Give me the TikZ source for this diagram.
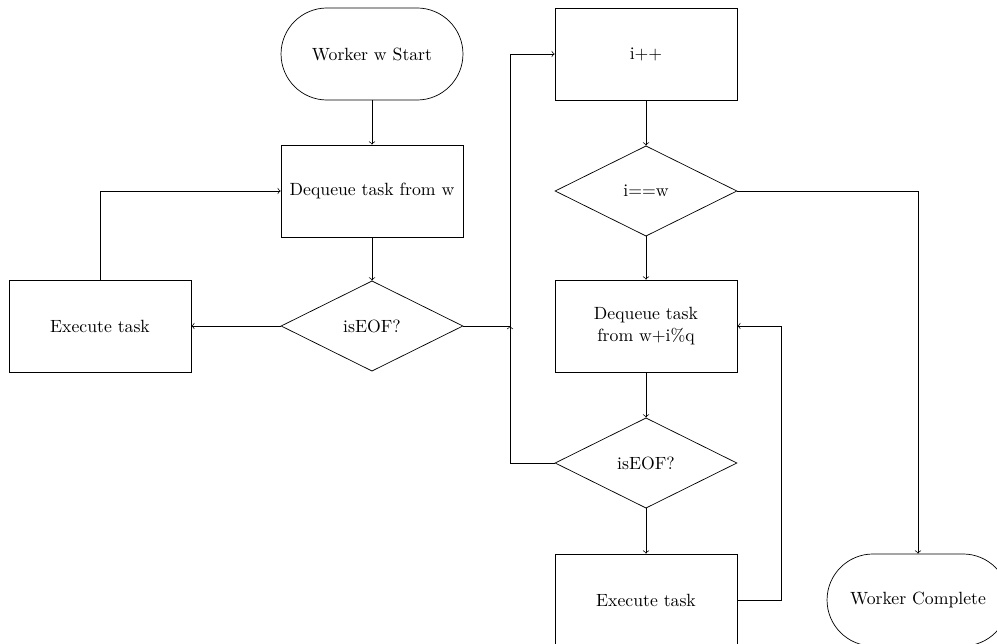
\documentclass[tikz,border=0pt]{standalone}
\usetikzlibrary{shapes.geometric}
\begin{document}
\begin{tikzpicture}[x=0.565pt,y=-0.565pt,
  box/.style={draw,rectangle,minimum width=102.8pt,minimum height=52pt,align=center,inner sep=2pt},
  term/.style={draw,rectangle,rounded corners=26pt,minimum width=102.8pt,minimum height=52pt,align=center},
  decide/.style={draw,diamond,minimum width=102.8pt,minimum height=51pt,inner sep=0pt,align=center},
  flow/.style={->}]
\useasboundingbox (0,0) rectangle (997,644);

% left column
\node[term]   (start) at (372,54)  {Worker w Start};
\node[box]    (deq)   at (372,191) {Dequeue task from w};
\node[decide] (eof)   at (372,326) {isEOF?};
\node[box]    (exec)  at (100,326) {Execute task};

% right column
\node[box]    (inc)   at (646,54)  {i++};
\node[decide] (same)  at (646,191) {i==w};
\node[box]    (steal) at (646,326) {Dequeue task\\from w+i\%q};
\node[decide] (eoftwo) at (646,463) {isEOF?};
\node[box]    (exectwo) at (646,600) {Execute task};
\node[term]   (done)  at (918,600) {Worker Complete};

\coordinate (bus) at (510,326);
\coordinate (back) at (781,600);

\draw[flow] (start) -- (deq);
\draw[flow] (deq) -- (eof);
\draw[flow] (eof) -- (exec);
\draw[flow] (exec.north) |- (deq.west);
\draw[flow] (eof.east) -- (bus) |- (inc.west);
\draw[flow] (inc) -- (same);
\draw[flow] (same) -- (steal);
\draw[flow] (same.east) -| (done.north);
\draw[flow] (steal) -- (eoftwo);
\draw[flow] (eoftwo.west) -| (bus);
\draw[flow] (eoftwo) -- (exectwo);
\draw[flow] (exectwo.east) -- (back) |- (steal.east);
\end{tikzpicture}
\end{document}
